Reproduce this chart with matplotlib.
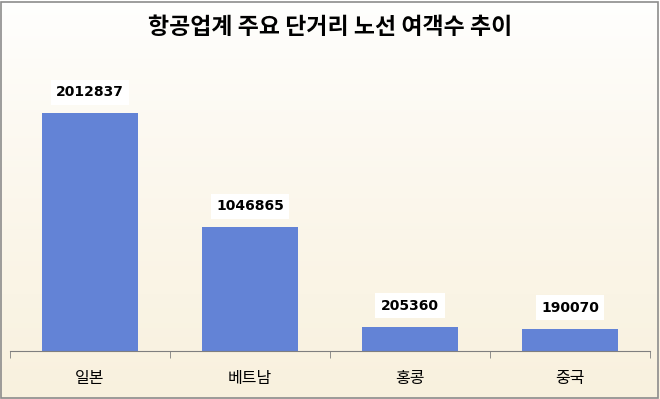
import matplotlib.pyplot as plt
import numpy as np
from matplotlib.patches import Rectangle

plt.rcParams['font.family'] = ['Noto Sans CJK KR', 'DejaVu Sans']

routes = ['일본', '베트남', '홍콩', '중국']
passengers = [2012837, 1046865, 205360, 190070]
title = '항공업계 주요 단거리 노선 여객수 추이'

fig = plt.figure(figsize=(6.6, 3.99), dpi=100)

# background gradient (white at top -> cream at bottom)
bg = fig.add_axes([0, 0, 1, 1], zorder=-10)
grad = np.linspace(0, 1, 256).reshape(-1, 1)
top = np.array([1.0, 1.0, 1.0])
bottom = np.array([0.975, 0.945, 0.87])
img = top + (bottom - top) * grad[..., None] ** 0.8
bg.imshow(img, aspect='auto', extent=[0, 1, 0, 1])
bg.add_patch(Rectangle((0.002, 0.003), 0.995, 0.993, fill=False,
                       edgecolor='#8c8c8c', lw=1.2, transform=bg.transAxes))
bg.axis('off')

ax = fig.add_axes([10/660, 48/399, 640/660, 291/399])
ax.patch.set_alpha(0)
x = np.arange(len(routes))
ax.bar(x, passengers, width=0.6, color='#6383d6', zorder=2)
ax.set_xlim(-0.5, len(routes) - 0.5)
ax.set_ylim(0, 2012837 * 291 / 238)

for xi, v in zip(x, passengers):
    ax.annotate(str(v), (xi, v), xytext=(0, 15), textcoords='offset points',
                ha='center', va='center', fontsize=10, fontweight='bold',
                family=['DejaVu Sans'],
                bbox=dict(boxstyle='square,pad=0.4', fc='white', ec='none'))

for s in ['top', 'right', 'left']:
    ax.spines[s].set_visible(False)
ax.spines['bottom'].set_color('#7f7f7f')
ax.set_yticks([])
ax.set_xticks(x)
ax.set_xticklabels(routes, fontsize=11.5)
ax.tick_params(axis='x', length=0, pad=14)
ax.set_xticks(np.arange(-0.5, len(routes)), minor=True)
ax.tick_params(axis='x', which='minor', length=5, color='#7f7f7f', direction='out')

fig.text(0.5, 1 - 27/399, title, ha='center', va='center', fontsize=16.5,
         fontweight='bold')

fig.savefig('out.png', dpi=100)
